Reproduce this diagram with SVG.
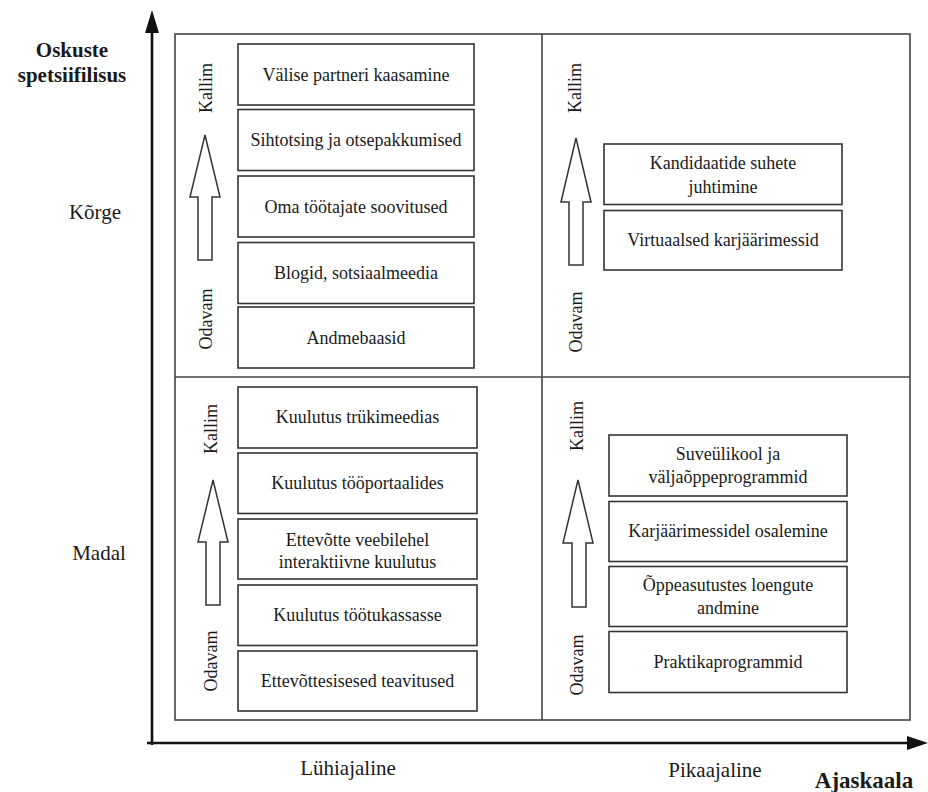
<svg xmlns="http://www.w3.org/2000/svg" width="928" height="792" viewBox="0 0 928 792">
<style>
text{font-family:"Liberation Serif","Times New Roman",serif;fill:#1a1a1a}
.bx rect{fill:#fff;stroke:#333;stroke-width:1.6}
.bx text{font-size:18px;text-anchor:middle}
.lbl{font-size:21px;text-anchor:middle}
.ttl{font-size:21px;font-weight:bold;text-anchor:middle}
.rot{font-size:18px;text-anchor:middle}
.harrow{fill:#fff;stroke:#333;stroke-width:1.5}
.frame{fill:none;stroke:#444;stroke-width:1.6}
.axis{stroke:#111;stroke-width:2.6;fill:none}
.head{fill:#111}
</style>
<rect width="928" height="792" fill="#fff"/>

<g id="axes">
<line class="axis" x1="152" y1="745" x2="152" y2="30"/>
<polygon class="head" points="152,10 145,33 159,33"/>
<line class="axis" x1="147" y1="743" x2="910" y2="743"/>
<polygon class="head" points="928,743 907,736 907,750"/>
</g>

<g id="frame">
<rect class="frame" x="175" y="34" width="735" height="686"/>
<line class="frame" x1="542" y1="34" x2="542" y2="720"/>
<line class="frame" x1="175" y1="377" x2="910" y2="377"/>
</g>

<g id="axis-labels">
<text class="ttl" x="72" y="57">Oskuste</text>
<text class="ttl" x="72" y="82">spetsiifilisus</text>
<text class="lbl" x="95" y="219">Kõrge</text>
<text class="lbl" x="99" y="560">Madal</text>
<text class="lbl" x="348" y="775">Lühiajaline</text>
<text class="lbl" x="715" y="777">Pikaajaline</text>
<text class="ttl" x="864" y="788" style="font-size:23px">Ajaskaala</text>
</g>

<g id="connectors">
<polygon class="harrow" points="205,135 220,197 212,197 212,260 198,260 198,197 190,197"/>
<polygon class="harrow" points="576,138 591,202 583,202 583,265 569,265 569,202 561,202"/>
<polygon class="harrow" points="213,480 228,542 220,542 220,605 206,605 206,542 198,542"/>
<polygon class="harrow" points="578,480 593,543 586,543 586,607 572,607 572,543 563,543"/>
</g>

<g id="cost-labels">
<text class="rot" transform="translate(212,88) rotate(-90)">Kallim</text>
<text class="rot" transform="translate(212,319) rotate(-90)">Odavam</text>
<text class="rot" transform="translate(581,88) rotate(-90)">Kallim</text>
<text class="rot" transform="translate(582,322) rotate(-90)">Odavam</text>
<text class="rot" transform="translate(217,429) rotate(-90)">Kallim</text>
<text class="rot" transform="translate(217,661) rotate(-90)">Odavam</text>
<text class="rot" transform="translate(583,426) rotate(-90)">Kallim</text>
<text class="rot" transform="translate(583,665) rotate(-90)">Odavam</text>
</g>

<g id="n-valise" class="bx"><rect x="238" y="44" width="236" height="61"/><text x="356" y="81">Välise partneri kaasamine</text></g>
<g id="n-sihtotsing" class="bx"><rect x="238" y="109.5" width="236" height="61"/><text x="356" y="146">Sihtotsing ja otsepakkumised</text></g>
<g id="n-oma" class="bx"><rect x="238" y="176" width="236" height="61"/><text x="356" y="213">Oma töötajate soovitused</text></g>
<g id="n-blogid" class="bx"><rect x="238" y="242.5" width="236" height="61"/><text x="356" y="279">Blogid, sotsiaalmeedia</text></g>
<g id="n-andmebaasid" class="bx"><rect x="238" y="307" width="236" height="61"/><text x="356" y="344">Andmebaasid</text></g>

<g id="n-kandidaatide" class="bx"><rect x="604" y="144" width="238" height="60.5"/><text x="723" y="169">Kandidaatide suhete</text><text x="723" y="193">juhtimine</text></g>
<g id="n-virtuaalsed" class="bx"><rect x="604" y="210.5" width="238" height="59.5"/><text x="723" y="246">Virtuaalsed karjäärimessid</text></g>

<g id="n-trukimeedias" class="bx"><rect x="238" y="387" width="239" height="61"/><text x="357.5" y="423">Kuulutus trükimeedias</text></g>
<g id="n-tooportaalides" class="bx"><rect x="238" y="453" width="239" height="60.5"/><text x="357.5" y="489">Kuulutus tööportaalides</text></g>
<g id="n-veebilehel" class="bx"><rect x="238" y="519" width="239" height="60"/><text x="357.5" y="546">Ettevõtte veebilehel</text><text x="357.5" y="568">interaktiivne kuulutus</text></g>
<g id="n-tootukassa" class="bx"><rect x="238" y="585" width="239" height="60.5"/><text x="357.5" y="621">Kuulutus töötukassasse</text></g>
<g id="n-teavitused" class="bx"><rect x="238" y="651" width="239" height="60"/><text x="357.5" y="687">Ettevõttesisesed teavitused</text></g>

<g id="n-suveulikool" class="bx"><rect x="609" y="435" width="238" height="61"/><text x="728" y="460">Suveülikool ja</text><text x="728" y="483">väljaõppeprogrammid</text></g>
<g id="n-karjaarimessidel" class="bx"><rect x="609" y="501.5" width="238" height="60"/><text x="728" y="537">Karjäärimessidel osalemine</text></g>
<g id="n-oppeasutustes" class="bx"><rect x="609" y="566.5" width="238" height="60"/><text x="728" y="591">Õppeasutustes loengute</text><text x="728" y="614">andmine</text></g>
<g id="n-praktika" class="bx"><rect x="609" y="631.5" width="238" height="61"/><text x="728" y="668">Praktikaprogrammid</text></g>
</svg>
